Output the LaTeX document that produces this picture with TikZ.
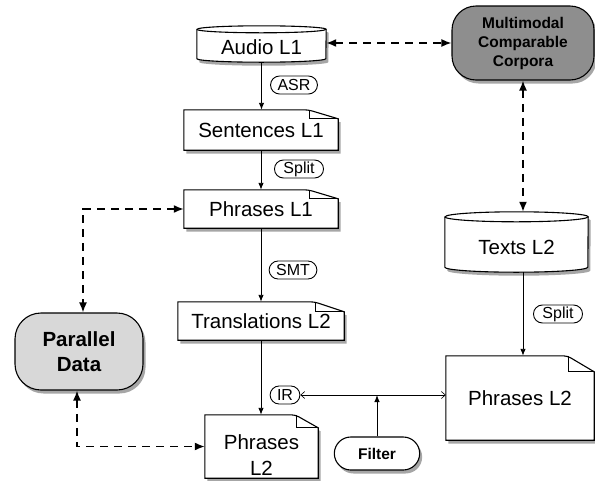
\documentclass[tikz,border=0pt]{standalone}
\usepackage{fontspec}
\setmainfont{Liberation Sans}
\usetikzlibrary{arrows.meta,shapes.misc,shadows,backgrounds}
\definecolor{darkbox}{HTML}{8E8E8E}
\definecolor{lightbox}{HTML}{D8D8D8}

% document shape drawn around a node: node, fold width, fold height
\newcommand\docpath[3]{%
  \filldraw[outline,softshadow] (#1.south west) -- (#1.north west)
    [rounded corners=4pt]-- ([xshift=-#2pt]#1.north east)
    [sharp corners]-- ([yshift=-#3pt]#1.north east) -- (#1.south east) -- cycle;
  \draw[line width=0.8pt] ([xshift=-#2pt+1.5pt]#1.north east) -- ([xshift=-#2pt+1.5pt,yshift=-#3pt]#1.north east) -- ([yshift=-#3pt]#1.north east);
}
% cylinder drawn around a node: node, x radius, y radius
\newcommand\cylpath[3]{%
  \filldraw[outline,softshadow] ([yshift=#3pt]#1.north west) -- ([yshift=#3pt]#1.south west)
    arc[start angle=180,end angle=360,x radius=#2pt,y radius=#3pt]
    -- ([yshift=#3pt]#1.north east)
    arc[start angle=0,end angle=180,x radius=#2pt,y radius=#3pt] -- cycle;
  \draw[line width=1.1pt] ([yshift=#3pt]#1.north west)
    arc[start angle=180,end angle=360,x radius=#2pt,y radius=#3pt];
}

\begin{document}
\begin{tikzpicture}[x=1pt,y=-1pt,
  softshadow/.style={drop shadow={shadow xshift=2.5pt,shadow yshift=-3.5pt,opacity=0.35,fill=black}},
  body/.style={inner sep=0pt, font=\fontsize{20.5}{25.6}\selectfont, align=center},
  outline/.style={draw=black, line width=1.1pt, fill=white},
  tag/.style={rounded rectangle, draw, line width=0.9pt, fill=white,
    font=\fontsize{16}{18}\selectfont, inner xsep=5pt, inner ysep=0pt, minimum height=18pt},
  term/.style={draw, line width=1.1pt, align=center, softshadow},
  flow/.style={line width=0.9pt, -{Latex[length=7pt,width=5.5pt]}},
  link/.style={line width=1.6pt, dash pattern=on 8pt off 6pt,
    {Latex[length=10pt,width=8pt]}-{Latex[length=10pt,width=8pt]}},
  thinlink/.style={line width=0.6pt, {Straight Barb[length=4pt,width=7pt]}-{Straight Barb[length=4pt,width=7pt]}}
]
\useasboundingbox (0,0) rectangle (595,480);

% cylinders
\node[body, minimum width=129pt, minimum height=29pt] (audio) at (261.5,47.5) {Audio L1};
\node[body, minimum width=143pt, minimum height=50pt] (texts) at (516.5,247) {Texts L2};
\coordinate (texttop) at ([yshift=10pt]texts.north);

% documents
\node[body, minimum width=154pt, minimum height=40pt] (sent) at (261,130) {Sentences L1};
\node[body, minimum width=154pt, minimum height=38pt] (phr1) at (261,209) {Phrases L1};
\node[body, minimum width=166pt, minimum height=38pt] (trans) at (261,321) {Translations L2};
\node[body, minimum width=113pt, minimum height=63pt,
  label={[body, yshift=-8.5pt]center:Phrases\\L2}] (pl2) at (261.5,446.5) {};
\node[body, minimum width=148pt, minimum height=84pt] (phrR) at (520,398) {Phrases L2};

\begin{scope}[on background layer]
  \cylpath{audio}{64.5}{3.5}
  \cylpath{texts}{71.5}{5}
  \docpath{sent}{30}{9}
  \docpath{phr1}{30}{9}
  \docpath{trans}{30}{10}
  \docpath{pl2}{23}{13}
  \docpath{phrR}{27}{16}
\end{scope}

% terminals
\node[term, rounded corners=24pt, fill=darkbox, minimum width=142pt, minimum height=74pt,
  font=\fontsize{15.5}{19}\selectfont\bfseries] (multi) at (523,43) {Multimodal\\Comparable\\Corpora};
\node[term, rounded corners=26pt, fill=lightbox, minimum width=128pt, minimum height=77pt,
  font=\fontsize{20.5}{25}\selectfont\bfseries] (para) at (79,351.5) {Parallel\\Data};
\node[term, rounded rectangle, fill=white, minimum width=92pt, minimum height=33pt,
  font=\fontsize{15.5}{19}\selectfont\bfseries] (filter) at (377,453.5) {Filter};

% process tags
\node[tag] (asr) at (294,85) {ASR};
\node[tag] (split1) at (299,169) {Split};
\node[tag] (smt) at (293,270) {SMT};
\node[tag] (ir) at (285,395) {IR};
\node[tag] (split2) at (558,314) {Split};

% solid flows
\draw[flow] (audio.south) -- (audio.south |- sent.north);
\draw[flow] (sent.south) -- (phr1.north);
\draw[flow] (phr1.south) -- (trans.north);
\draw[flow] (trans.south) -- (trans.south |- pl2.north);
\draw[flow] (multi.south |- texts.south) -- (multi.south |- phrR.north);
\draw[thinlink] (ir.east) -- (ir.east -| phrR.west);
\draw[flow] (filter.north) -- (filter.north |- ir.east);

% dashed links
\draw[link] (audio.east |- multi.west) -- (multi.west);
\draw[link] (multi.south) -- (multi.south |- texttop);
\draw[link] (phr1.west) -| ([xshift=4pt]para.north);
\draw[link] ([xshift=-2pt]para.south) |- (pl2.west);
\end{tikzpicture}
\end{document}
